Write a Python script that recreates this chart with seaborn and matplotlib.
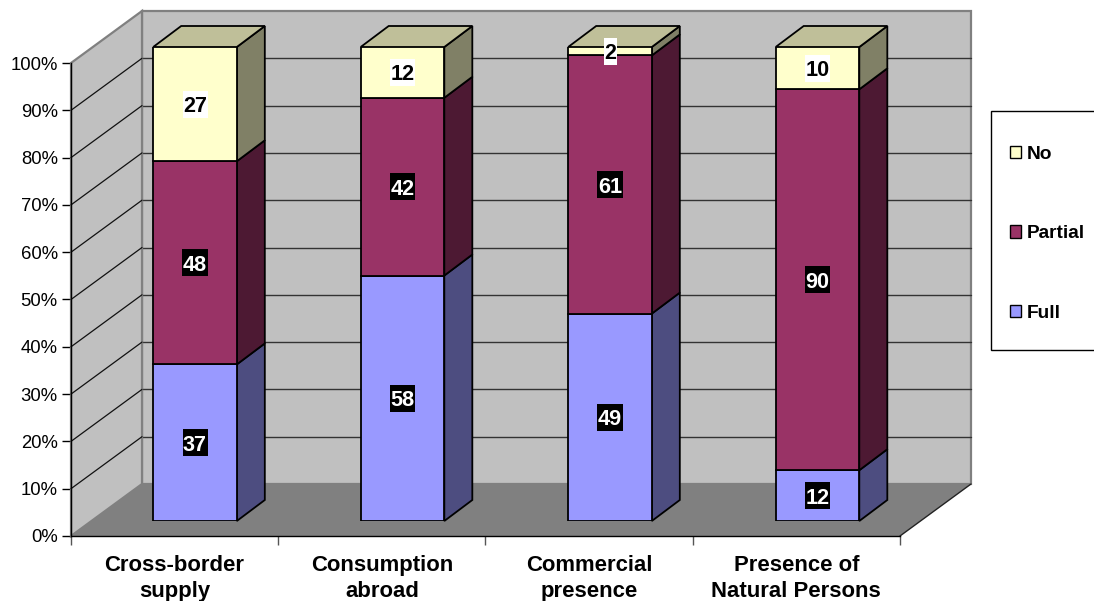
import matplotlib
matplotlib.use("Agg")
import matplotlib.pyplot as plt
import numpy as np
import pandas as pd
import seaborn as sns
from matplotlib.patches import Polygon, Rectangle
from matplotlib.transforms import Affine2D, IdentityTransform
from matplotlib.ticker import PercentFormatter

categories = ["Cross-border\nsupply", "Consumption\nabroad", "Commercial\npresence", "Presence of\nNatural Persons"]
full = [37, 58, 49, 12]
partial = [48, 42, 61, 90]
no = [27, 12, 2, 10]

FRONT = {"Full": "#9999FF", "Partial": "#993366", "No": "#FFFFCC"}
SIDE = {"Full": "#4D4D80", "Partial": "#4D1933", "No": "#808066"}
TOP = "#BFBF99"

W, H = 1094, 601
sns.set_theme(style="white")
plt.rcParams["font.family"] = ["Liberation Sans", "DejaVu Sans"]

fig = plt.figure(figsize=(W / 100, H / 100), dpi=100, facecolor="white")


def box(left, top, right, bottom):
    """Axes rectangle from pixel edges measured from the top-left corner."""
    return [left / W, 1 - bottom / H, (right - left) / W, (bottom - top) / H]


# pixel coordinates, y pointing down
px = Affine2D().scale(1, -1).translate(0, H)

# Axis frame: front plane of the 3-D box, holds the ticks and labels
frame = fig.add_axes(box(71, 63, 900, 536), zorder=0)
frame.patch.set_visible(False)
frame.set_xlim(0, 4)
frame.set_ylim(0, 1)
for name, spine in frame.spines.items():
    spine.set_visible(name in ("left", "bottom"))
    spine.set_color("black")
    spine.set_linewidth(1.0)
    spine.set_zorder(1)
frame.yaxis.set_major_locator(plt.MultipleLocator(0.1))
frame.yaxis.set_major_formatter(PercentFormatter(1.0, decimals=0))
frame.set_xticks(range(5))
frame.set_xticklabels([])
frame.set_xticks(np.arange(4) + 0.5, categories, minor=True)
frame.tick_params(axis="y", left=True, length=6.5, width=1.0, pad=3, labelsize=13.3, color="black", labelcolor="black")
frame.tick_params(axis="x", which="major", bottom=True, length=6.5, width=1.0, color="#555555")
frame.tick_params(axis="x", which="minor", bottom=False, length=0, pad=13.5, labelsize=15.9, labelcolor="black")
for lab in frame.get_xticklabels(minor=True):
    lab.set_fontweight("bold")
    lab.set_linespacing(1.32)

# Walls and floor of the box
dx, dy = 71, 52
x0, x1, y0, y1 = 71, 900, 536, 63
wall_grey, edge_grey = "#C0C0C0", "#808080"
frame.add_patch(Polygon([(x0, y0), (x0 + dx, y0 - dy), (x1 + dx, y0 - dy), (x1, y0)],
                        transform=px, fc="#808080", ec="none", zorder=0.5, clip_on=False))
frame.add_patch(Polygon([(x0 + dx, y1 - dy), (x1 + dx, y1 - dy), (x1 + dx, y0 - dy), (x0 + dx, y0 - dy)],
                        transform=px, fc=wall_grey, ec=edge_grey, lw=1.6, zorder=0.6, clip_on=False))
frame.add_patch(Polygon([(x0, y0), (x0, y1), (x0 + dx, y1 - dy), (x0 + dx, y0 - dy)],
                        transform=px, fc=wall_grey, ec=edge_grey, lw=1.6, zorder=0.7, clip_on=False))
frame.plot([x1, x1 + dx], [y0, y0 - dy], transform=px, color="#222222", lw=1.0, zorder=0.8, clip_on=False)
for level in np.arange(1, 10) / 10:
    yp = y0 + (y1 - y0) * level
    frame.plot([x0, x0 + dx], [yp, yp - dy], transform=px, color="#111111", lw=0.9, zorder=0.8, clip_on=False)
    frame.plot([x0 + dx, x1 + dx], [yp - dy, yp - dy], transform=px, color="#333333", lw=1.0, zorder=0.65, clip_on=False)

# Stacked percentage bars, front faces
ax = fig.add_axes(box(91.25, 47, 921.25, 521), zorder=1)
table = pd.DataFrame({"Service": categories, "Full": full, "Partial": partial, "No": no}).set_index("Service")
shares = table.div(table.sum(axis=1), axis=0) * 100
bottom = np.zeros(len(table))
layers = []
for series in ["Full", "Partial", "No"]:
    sns.barplot(x=list(table.index), y=shares[series].values, bottom=bottom, color=FRONT[series], saturation=1,
                width=0.403, edgecolor="black", linewidth=1.3, ax=ax, zorder=3)
    layers.append((series, ax.containers[-1], bottom.copy()))
    bottom = bottom + shares[series].values
ax.set_xlim(-0.5, 3.5)
ax.set_ylim(0, 100)
ax.set_axis_off()

# Side and top faces extruded from the front faces
depth = np.array([28, 21])
for series, bars, base in layers:
    for bar in bars:
        a = bar.get_x()
        b = a + bar.get_width()
        lo = bar.get_y()
        hi = lo + bar.get_height()
        p_lo, p_hi = ax.transData.transform([(b, lo), (b, hi)])
        ax.add_patch(Polygon([p_lo, p_hi, p_hi + depth, p_lo + depth], transform=IdentityTransform(),
                             fc=SIDE[series], ec="black", lw=1.3, zorder=2, clip_on=False))
        if series == "No":
            q = ax.transData.transform((a, hi))
            ax.add_patch(Polygon([q, p_hi, p_hi + depth, q + depth], transform=IdentityTransform(),
                                 fc=TOP, ec="black", lw=1.3, zorder=2, clip_on=False))

# Value labels on small contrasting plates
fig.canvas.draw()
renderer = fig.canvas.get_renderer()
for (series, bars, base), values in zip(layers, (full, partial, no)):
    ink, plate = ("black", "white") if series == "No" else ("white", "black")
    for bar, value in zip(bars, values):
        cx = bar.get_x() + bar.get_width() / 2
        cy = bar.get_y() + bar.get_height() / 2
        t = ax.text(cx, cy, str(value), ha="center", va="center_baseline", color=ink, fontsize=15.6,
                    fontweight="bold", zorder=6, clip_on=False)
        ext = t.get_window_extent(renderer)
        mx, my = ax.transData.transform((cx, cy))
        ax.add_patch(Rectangle((mx - ext.width / 2 - 0.5, my - 13.5), ext.width + 1, 27,
                               transform=IdentityTransform(), fc=plate, ec="none", zorder=5, clip_on=False))

# Legend panel, running off the right edge of the figure
frame.add_patch(Rectangle((991, 111), 120, 239, transform=px, fc="white", ec="black", lw=1.0, clip_on=False, zorder=0.4))
handles = [Rectangle((0, 0), 1, 1, fc=FRONT[s], ec="black", lw=1.0) for s in ["No", "Partial", "Full"]]
leg = fig.legend(handles, ["No", "Partial", "Full"], loc="upper left", bbox_to_anchor=(1009.5 / W, 1 - 146 / H),
                 frameon=False, borderpad=0, borderaxespad=0, handlelength=0.6, handleheight=0.6,
                 handletextpad=0.28, labelspacing=3.25, fontsize=13.8)
for text in leg.get_texts():
    text.set_fontweight("bold")
    text.set_color("black")

fig.savefig("out.png", dpi=100, facecolor="white")
